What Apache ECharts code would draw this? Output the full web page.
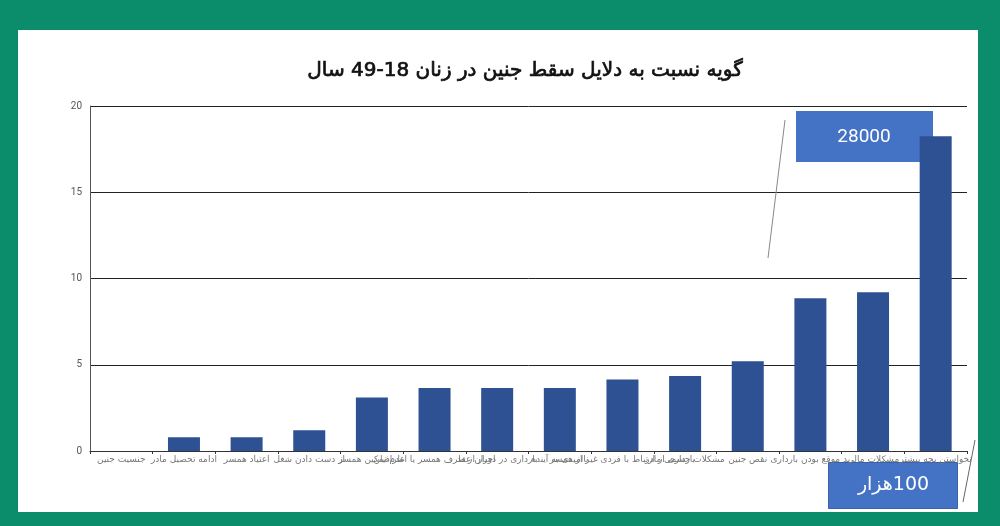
<!DOCTYPE html>
<html>
<head>
<meta charset="utf-8">
<script src="https://cdn.jsdelivr.net/npm/echarts@6/dist/echarts.min.js"></script>
<style>
	html, body {
		margin: 0;
		padding: 0;
		background: #0b8d6b;
	}
	#panel {
		position: absolute;
		left: 18px;
		top: 30px;
		width: 960px;
		height: 482px;
		background: #fff;
	}
	#chart {
		position: absolute;
		left: 0;
		top: 0;
		width: 1000px;
		height: 526px;
	}
</style>
</head>
<body>
<div id="panel"></div>
<div id="chart"></div>
<script>
	// دلایل سقط جنین
	var categories = [
		'جنسیت جنین',
		'ادامه تحصیل مادر',
		'اعتیاد همسر',
		'از دست دادن شغل',
		'عدم تمکین همسر',
		'اجبار از طرف همسر یا اطرافیان',
		'بارداری در دوران عقد',
		'ناامیدی به آینده',
		'بارداری از ارتباط با فردی غیر از همسر',
		'مشکلات جسمی مادر',
		'نقص جنین',
		'بد موقع بودن بارداری',
		'مشکلات مالی',
		'نخواستن بچه بیشتر'
	];
	var values = [0, 0.8, 0.8, 1.2, 3.1, 3.65, 3.65, 3.65, 4.15, 4.35, 5.2, 8.85, 9.2, 18.25];
	var yTicks = [0, 5, 10, 15, 20];
	var noteTop = '28000';
	var noteBottom = '\u200F100هزار'; // RLM so the number sits on the right

	var mychart = echarts.init(document.getElementById('chart'));
	var option = {
		backgroundColor: 'transparent',
		animation: false,
		title: {
			text: 'گویه نسبت به دلایل سقط جنین در زنان 18-49 سال',
			left: 520,
			top: 56,
			textAlign: 'center',
			textStyle: {
				color: '#111',
				fontSize: 20,
				fontWeight: 'normal',
				fontFamily: 'DejaVu Sans',
				textBorderColor: '#111',
				textBorderWidth: 0.7
			}
		},
		grid: {
			left: 90,
			right: 33,
			top: 106,
			bottom: 75
		},
		xAxis: {
			type: 'category',
			data: categories,
			axisLine: {
				show: true,
				lineStyle: { color: '#333', width: 1 }
			},
			axisTick: {
				show: true,
				length: 3,
				lineStyle: { color: '#333' }
			},
			axisLabel: {
				interval: 0,
				color: '#777',
				fontSize: 9,
				margin: 4,
				fontFamily: 'DejaVu Sans'
			}
		},
		yAxis: {
			type: 'value',
			min: yTicks[0],
			max: yTicks[yTicks.length - 1],
			interval: 5,
			axisLine: {
				show: true,
				lineStyle: { color: '#555', width: 1 }
			},
			axisTick: { show: false },
			splitLine: {
				show: true,
				lineStyle: { color: '#222', width: 1 }
			},
			axisLabel: {
				color: '#555',
				fontSize: 10,
				margin: 8,
				fontFamily: 'Roboto',
				formatter: function(v) {
					return yTicks.indexOf(v) >= 0 ? String(v) : '';
				}
			}
		},
		series: [{
			type: 'bar',
			data: values,
			barWidth: 32,
			itemStyle: {
				color: '#2d5193'
			}
		}],
		graphic: [
			{
				type: 'line',
				shape: { x1: 785, y1: 120, x2: 768, y2: 258 },
				style: { stroke: '#888', lineWidth: 1 },
				z: 100
			},
			{
				type: 'line',
				shape: { x1: 975, y1: 440, x2: 963, y2: 502 },
				style: { stroke: '#666', lineWidth: 1 },
				z: 100
			},
			{
				type: 'group',
				left: 796,
				top: 111,
				z: 100,
				children: [{
					type: 'rect',
					shape: { x: 0, y: 0, width: 137, height: 51 },
					style: { fill: '#4472c4' }
				}, {
					type: 'text',
					x: 68,
					y: 26,
					style: {
						text: noteTop,
						fill: '#fff',
						fontSize: 19,
						fontFamily: 'Roboto',
						align: 'center',
						verticalAlign: 'middle'
					}
				}]
			},
			{
				type: 'group',
				left: 828,
				top: 462,
				z: 100,
				children: [{
					type: 'rect',
					shape: { x: 0, y: 0, width: 129, height: 46 },
					style: { fill: '#4472c4', stroke: '#3a62a8', lineWidth: 1 }
				}, {
					type: 'text',
					x: 65,
					y: 23,
					style: {
						text: noteBottom,
						fill: '#fff',
						fontSize: 19,
						fontFamily: 'DejaVu Sans',
						align: 'center',
						verticalAlign: 'middle'
					}
				}]
			}
		]
	};
	mychart.setOption(option);
</script>
</body>
</html>
